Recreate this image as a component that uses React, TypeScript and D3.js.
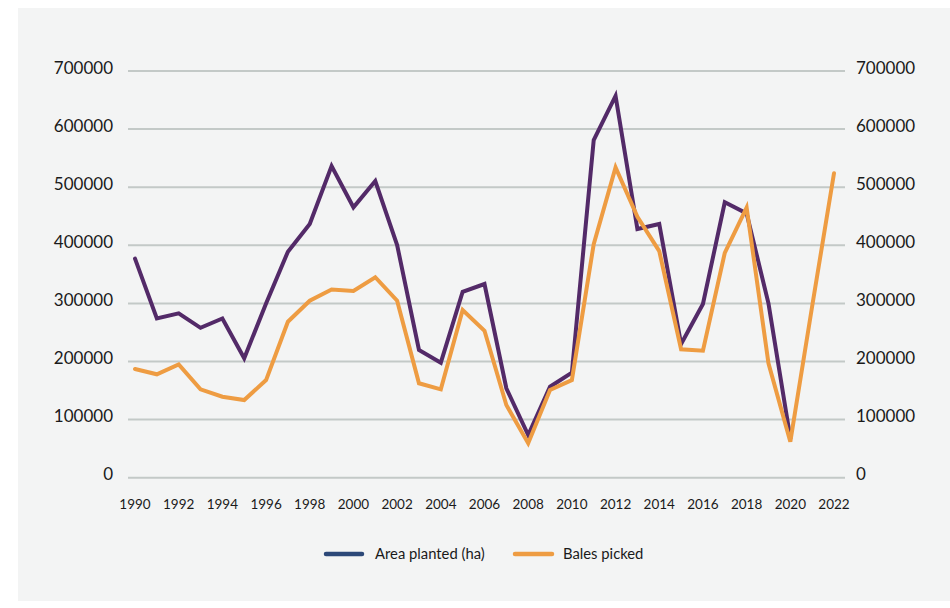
import React from "react";
import * as d3 from "d3";

// Cotton area planted (ha) and bales picked, by season year
const areaYears: number[] = d3.range(1990, 2021);
const areaPlanted: number[] = [
  377000, 274000, 283000, 258000, 274000, 205500, 300000, 389000, 436700, 536500,
  465400, 510700, 400500, 219800, 198000, 320000, 333400, 153900, 73500, 156600,
  180700, 581200, 657000, 428000, 436700, 230000, 299000, 474000, 455000, 300000,
  68000,
];

const balesYears: number[] = d3.range(1990, 2023);
const balesPicked: number[] = [
  187000, 178000, 195000, 152000, 139400, 133700, 168000, 268500, 304600, 324000,
  321300, 345000, 304600, 162500, 152000, 288600, 253000, 125000, 59200, 151000,
  168000, 402000, 534000, 449000, 390000, 221000, 218600, 387000, 465000, 197000,
  62000, 295000, 524000,
];

const xTickYears: number[] = d3.range(1990, 2023, 2);
const yTicks: number[] = [0, 100000, 200000, 300000, 400000, 500000, 600000, 700000];

const seriesNames = ["Area planted (ha)", "Bales picked"];

const W = 950;
const H = 608;
const FONT = "Lato, 'Open Sans', sans-serif";
const PURPLE = "#532a68";
const ORANGE = "#ee9c42";
const LEGEND_BLUE = "#2c4878";
const GRID = "#c3c9c7";
const TEXT = "#1a1a1a";

export default function App() {
  const x = d3.scaleLinear().domain([1990, 2022]).range([135, 834]);
  const y = d3.scaleLinear().domain([0, 700000]).range([477.7, 71]);

  const line = d3
    .line<[number, number]>()
    .x((d) => x(d[0]))
    .y((d) => y(d[1]));

  const areaPts: [number, number][] = areaYears.map((yr, i) => [yr, areaPlanted[i]]);
  const balesPts: [number, number][] = balesYears.map((yr, i) => [yr, balesPicked[i]]);

  return (
    <svg
      width={W}
      height={H}
      style={{ position: "absolute", left: 0, top: 0 }}
      fontFamily={FONT}
    >
      <rect x={0} y={0} width={W} height={H} fill="#ffffff" />
      <rect x={18} y={8} width={W - 18} height={593} fill="#f3f4f4" />

      {/* horizontal gridlines */}
      {yTicks.map((t) => (
        <line
          key={"g" + t}
          x1={128}
          x2={845}
          y1={y(t)}
          y2={y(t)}
          stroke={GRID}
          strokeWidth={2}
        />
      ))}

      {/* left axis labels */}
      {yTicks.map((t) => (
        <text
          key={"l" + t}
          x={113}
          y={y(t) + 2.5}
          textAnchor="end"
          fontSize={17}
          fill={TEXT}
        >
          {t}
        </text>
      ))}

      {/* right axis labels */}
      {yTicks.map((t) => (
        <text
          key={"r" + t}
          x={856}
          y={y(t) + 2.5}
          textAnchor="start"
          fontSize={17}
          fill={TEXT}
        >
          {t}
        </text>
      ))}

      {/* year labels */}
      {xTickYears.map((yr) => (
        <text
          key={"x" + yr}
          x={x(yr)}
          y={509}
          textAnchor="middle"
          fontSize={13.5}
          fill={TEXT}
        >
          {yr}
        </text>
      ))}

      <path
        d={line(areaPts) || ""}
        fill="none"
        stroke={PURPLE}
        strokeWidth={4}
        strokeLinecap="round"
        strokeLinejoin="miter"
      />
      <path
        d={line(balesPts) || ""}
        fill="none"
        stroke={ORANGE}
        strokeWidth={4}
        strokeLinecap="round"
        strokeLinejoin="miter"
      />

      {/* legend */}
      <g>
        <line x1={326} x2={362} y1={554} y2={554} stroke={LEGEND_BLUE} strokeWidth={4.5} strokeLinecap="round" />
        <text x={375} y={558.5} fontSize={14.8} fill={TEXT}>
          {seriesNames[0]}
        </text>
        <line x1={515} x2={552} y1={554} y2={554} stroke={ORANGE} strokeWidth={4.5} strokeLinecap="round" />
        <text x={563} y={558.5} fontSize={14.8} fill={TEXT}>
          {seriesNames[1]}
        </text>
      </g>
    </svg>
  );
}
